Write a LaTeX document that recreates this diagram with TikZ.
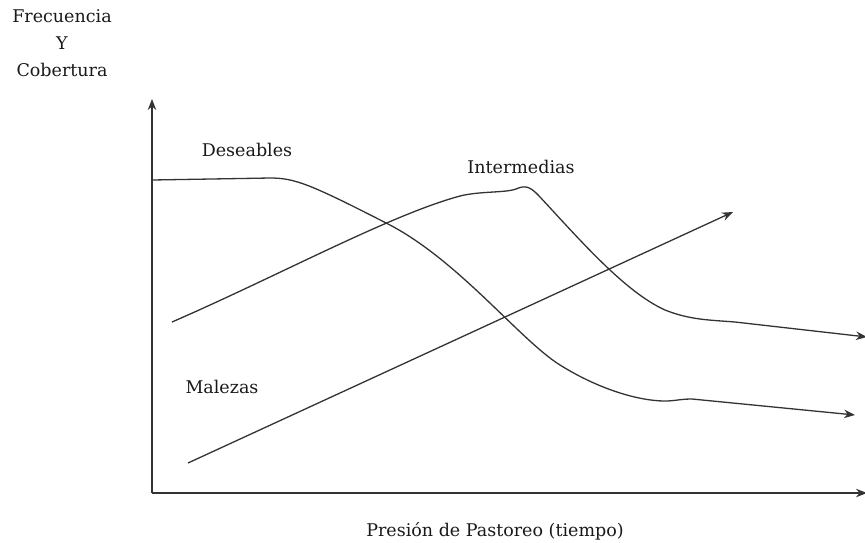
\documentclass[tikz,border=0pt]{standalone}
\usepackage{fontspec}
\setmainfont{DejaVu Serif}
\usetikzlibrary{arrows.meta}
\begin{document}
\begin{tikzpicture}[x=1pt,y=-1pt,
  curve/.style={draw=black!80,line width=1.3pt,-{Stealth[length=11pt,width=8.5pt]}},
  lbl/.style={font=\fontsize{17.5}{27}\selectfont,text=black!90,inner sep=0pt}]
\useasboundingbox (0,0) rectangle (865,542);
% axes
\coordinate (O) at (152,493);
\coordinate (Ytop) at (152,99);
\coordinate (Xend) at (867,493);
\draw[curve] (O) -- (Ytop);
\draw[curve] (O) -- (Xend);
% Deseables
\coordinate (d0) at (152,180);
\coordinate (d1) at (855,415);
\draw[curve] (d0) -- (270,178) .. controls (295,178) and (310,184) .. (390,225)
  .. controls (460,262) and (520,340) .. (560,365)
  .. controls (600,390) and (640,401) .. (665,401)
  .. controls (675,401) and (680,399) .. (692,399) -- (d1);
% Intermedias
\coordinate (i0) at (172,322);
\coordinate (i1) at (867,337);
\draw[curve] (i0) .. controls (280,275) and (390,215) .. (460,196)
  .. controls (480,191) and (505,193) .. (516,189)
  .. controls (525,185) and (530,186) .. (540,197)
  .. controls (580,240) and (625,292) .. (665,310)
  .. controls (690,320) and (710,320) .. (735,322) -- (i1);
% Malezas
\coordinate (m0) at (188,463);
\coordinate (m1) at (733,212);
\draw[curve] (m0) -- (m1);
% labels
\node[lbl] (deslbl) at (247,150) {Deseables};
\node[lbl] (intlbl) at (521,167) {Intermedias};
\node[lbl] (mallbl) at (222,387) {Malezas};
\node[lbl,align=center] (ylbl) at (62,43) {Frecuencia\\Y\\Cobertura};
\node[lbl] (xlbl) at (495,531) {Presión de Pastoreo (tiempo)};
\end{tikzpicture}
\end{document}
